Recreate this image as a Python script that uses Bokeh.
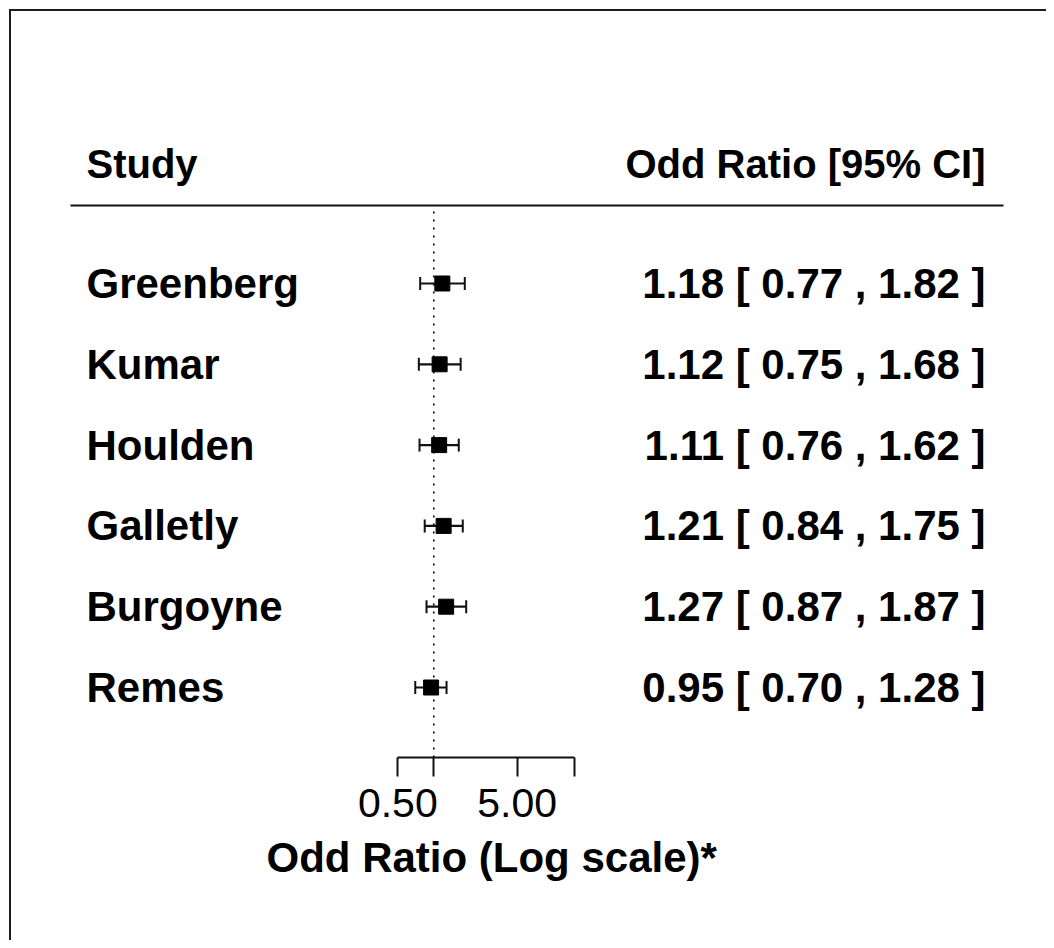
import numpy as np
from bokeh.plotting import figure
from bokeh.models import Range1d, LogScale, LogAxis, FixedTicker, ColumnDataSource, Title
from bokeh.core.properties import value
from bokeh.embed import file_html
from bokeh.resources import INLINE

# ---- data ----
studies = ["Greenberg", "Kumar", "Houlden", "Galletly", "Burgoyne", "Remes"]
odds_ratio = [1.18, 1.12, 1.11, 1.21, 1.27, 0.95]
ci_lower = [0.77, 0.75, 0.76, 0.84, 0.87, 0.70]
ci_upper = [1.82, 1.68, 1.62, 1.75, 1.87, 1.28]
tick_values = [0.5, 1, 5, 15]
tick_labels = ["0.50", "", "5.00", ""]
header_left = "Study"
header_right = "Odd Ratio [95% CI]"
x_title = "Odd Ratio (Log scale)*"

# ---- layout constants (pixels) ----
W, H = 1046, 940
FRAME_H = 757
ROW_PX = 80.8
LAST_ROW_PX = 687.0
PX_DECADE = 119.4
X_HALF = 397.3            # pixel of 0.5 on the log axis
LEFT_X, RIGHT_X = 86, 985
FONT = value("Liberation Sans")
HEAD_FS = value("40px")
ROW_FS = value("42px")
LINE = "#111111"

n = len(studies)
ys = np.arange(n, 0, -1).astype(float)
y_start = 1 - (FRAME_H - LAST_ROW_PX) / ROW_PX
y_end = 1 + LAST_ROW_PX / ROW_PX
header_y = 1 + (LAST_ROW_PX - 163) / ROW_PX
rule_y = 1 + (LAST_ROW_PX - 205) / ROW_PX
cap = 6.5 / ROW_PX

log_start = np.log10(0.5) - X_HALF / PX_DECADE
log_end = log_start + W / PX_DECADE

labels_right = ["%.2f [ %.2f , %.2f ]" % (o, l, u) for o, l, u in zip(odds_ratio, ci_lower, ci_upper)]

src = ColumnDataSource(dict(
    study=studies, orr=odds_ratio, lo=ci_lower, hi=ci_upper, y=ys,
    ylo=ys - cap, yhi=ys + cap, txt=labels_right,
))

p = figure(width=W, height=H, x_range=Range1d(0, W), y_range=Range1d(y_start, y_end),
           output_backend="svg", toolbar_location=None,
           x_axis_type=None, y_axis_type=None,
           min_border_left=0, min_border_right=0, min_border_top=0,
           min_border_bottom=H - FRAME_H)
p.outline_line_color = None
p.background_fill_color = None
p.border_fill_color = None
p.styles = {
    "background-color": "white",
    "background-image": "linear-gradient(#1c1c1c, #1c1c1c), linear-gradient(#1c1c1c, #1c1c1c)",
    "background-size": "2px 100%, 100% 2px",
    "background-position": "9px 9px, 9px 9px",
    "background-repeat": "no-repeat",
}
p.extra_x_ranges = {"or": Range1d(10 ** log_start, 10 ** log_end)}
p.extra_x_scales = {"or": LogScale()}

# header
p.text(x=[LEFT_X], y=[header_y], text=[header_left], text_font=FONT, text_font_size=HEAD_FS,
       text_font_style="bold", text_baseline="middle", text_align="left", text_color="black")
p.text(x=[RIGHT_X], y=[header_y], text=[header_right], text_font=FONT, text_font_size=HEAD_FS,
       text_font_style="bold", text_baseline="middle", text_align="right", text_color="black")
p.segment(x0=[70], y0=[rule_y], x1=[1003], y1=[rule_y], line_width=2, line_color=LINE)

# rows
p.text(x=LEFT_X, y="y", text="study", source=src, text_font=FONT, text_font_size=ROW_FS,
       text_font_style="bold", text_baseline="middle", text_align="left", text_color="black")
p.text(x=RIGHT_X, y="y", text="txt", source=src, text_font=FONT, text_font_size=ROW_FS,
       text_font_style="bold", text_baseline="middle", text_align="right", text_color="black")

# reference line at OR = 1
p.segment(x0=[1], y0=[y_start], x1=[1], y1=[rule_y - 2.5 / ROW_PX], x_range_name="or",
          line_color="black", line_width=1.6, line_dash="2 6")

# CIs
p.segment(x0="lo", y0="y", x1="hi", y1="y", source=src, x_range_name="or",
          line_color=LINE, line_width=2.2)
p.segment(x0="lo", y0="ylo", x1="lo", y1="yhi", source=src, x_range_name="or",
          line_color=LINE, line_width=2)
p.segment(x0="hi", y0="ylo", x1="hi", y1="yhi", source=src, x_range_name="or",
          line_color=LINE, line_width=2)
p.scatter(x="orr", y="y", source=src, x_range_name="or", marker="square", size=15,
          fill_color="black", line_color="black")

# axis
ax = LogAxis(x_range_name="or", ticker=FixedTicker(ticks=tick_values, minor_ticks=[]),
             bounds=(min(tick_values), max(tick_values)))
ax.major_label_overrides = {t: l for t, l in zip(tick_values, tick_labels)}
ax.axis_line_width = 2
ax.axis_line_color = LINE
ax.major_tick_line_width = 2
ax.major_tick_line_color = LINE
ax.major_tick_in = 0
ax.major_tick_out = 19
ax.minor_tick_line_color = None
ax.major_label_text_font = "Liberation Sans"
ax.major_label_text_font_size = "41px"
ax.major_label_text_color = "black"
ax.major_label_standoff = 12
p.add_layout(ax, "below")

p.add_layout(Title(text=x_title, align="left", offset=266, standoff=24,
                   text_font="Liberation Sans", text_font_size="42px", text_font_style="bold",
                   text_color="black"), "below")

open("out.html", "w").write(file_html(p, INLINE))
